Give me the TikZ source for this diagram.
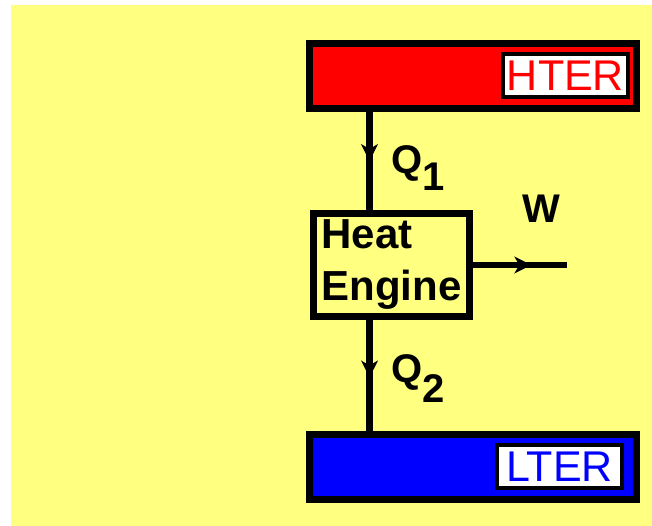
\documentclass[tikz,border=0pt]{standalone}
\usepackage{fontspec}
\setmainfont{Liberation Sans}
\usepackage{tikz}
\usetikzlibrary{arrows.meta,decorations.markings}
\definecolor{bgyellow}{RGB}{255,255,128}
\definecolor{hotred}{RGB}{255,0,0}
\definecolor{coldblue}{RGB}{0,0,255}
\tikzset{
  reservoir/.style={draw, rectangle, line width=7pt, minimum width=327pt, minimum height=65pt, inner sep=0pt},
  tag/.style={draw, rectangle, line width=4pt, fill=white, minimum width=125pt, minimum height=43pt, inner sep=0pt, font=\fontsize{43}{48}\selectfont},
  engine/.style={draw, rectangle, line width=7pt, fill=bgyellow, minimum width=156pt, minimum height=103pt, inner sep=0pt, align=left, font=\bfseries\fontsize{42}{52}\selectfont},
  lbl/.style={inner sep=0pt, font=\bfseries\fontsize{40}{44}\selectfont},
  wire/.style={line width=6.5pt},
  flow/.style={postaction={decorate}, decoration={markings, mark=at position #1 with {\arrow[line width=1pt]{Stealth[length=17pt,width=17pt,inset=5pt]}}}}
}
\begin{document}
\begin{tikzpicture}[x=1pt,y=-1pt]
  \useasboundingbox (0,0) rectangle (652,526);
  \fill[bgyellow] (11,5) rectangle (652,526);

  \node[reservoir, fill=hotred] (hter) at (473,76) {};
  \node[tag, text=hotred] (htlabel) at (565.5,75.5) {HTER};

  \node[engine] (heng) at (391.5,265) {Heat\\Engine};

  \node[reservoir, fill=coldblue] (lter) at (473,466.5) {};
  \node[tag, text=coldblue] (ltlabel) at (559.5,466.5) {LTER};

  \coordinate (tap) at (369.5,0);
  \coordinate (wout) at (567,265);

  \draw[wire, flow=0.5] (hter.south -| tap) -- (heng.north -| tap);
  \draw[wire, flow=0.52] (heng.south -| tap) -- (lter.north -| tap);
  \draw[wire, flow=0.62] (heng.east) -- (wout);

  \node[lbl, anchor=base west] (qin) at (391,174) {Q\raisebox{-17pt}{1}};
  \node[lbl, anchor=base west] (qout) at (391,382) {Q\raisebox{-20pt}{2}};
  \node[lbl] (work) at (541.5,209) {W};
\end{tikzpicture}
\end{document}
